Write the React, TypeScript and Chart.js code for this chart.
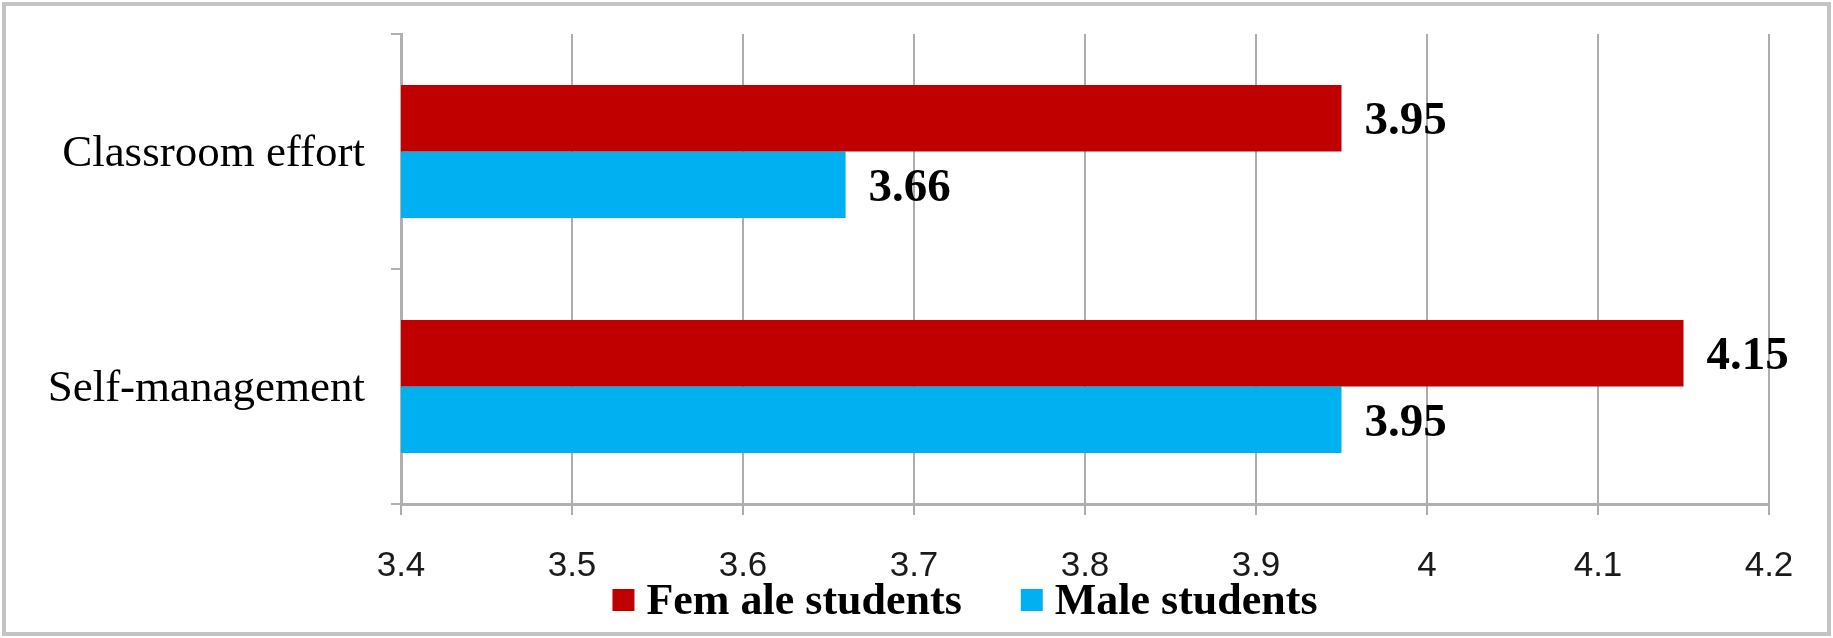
import React, { useEffect, useRef } from 'react';
import { Chart, registerables } from 'chart.js';

Chart.register(...registerables);

// Chart values
const categories = ['Classroom effort', 'Self-management'];
const femaleScores = [3.95, 4.15];
const maleScores = [3.66, 3.95];
const seriesNames = ['Fem ale students', 'Male students'];
const seriesColors = ['#C00000', '#00B0F0'];
const xTickValues = [3.4, 3.5, 3.6, 3.7, 3.8, 3.9, 4.0, 4.1, 4.2];
const xTickLabels = ['3.4', '3.5', '3.6', '3.7', '3.8', '3.9', '4', '4.1', '4.2'];

// Bold value labels next to bar ends
const valueLabels = {
  id: 'valueLabels',
  afterDatasetsDraw(chart: any) {
    const ctx = chart.ctx;
    ctx.save();
    ctx.font = 'bold 47px "Liberation Serif"';
    ctx.fillStyle = '#000';
    ctx.textAlign = 'left';
    ctx.textBaseline = 'middle';
    chart.data.datasets.forEach((ds: any, i: number) => {
      chart.getDatasetMeta(i).data.forEach((bar: any, j: number) => {
        ctx.fillText(Number(ds.data[j]).toFixed(2), bar.x + 23, bar.y + 4);
      });
    });
    ctx.restore();
  },
};

// Legend under the axis, like the original (small square, tight gap to text)
const bottomLegend = {
  id: 'bottomLegend',
  afterDraw(chart: any) {
    const ctx = chart.ctx;
    const box = 22;
    const textGap = 12;
    const itemGap = 59;
    const centerX = 965;
    const baseline = 614;
    ctx.save();
    ctx.font = 'bold 44px "Liberation Serif"';
    ctx.textAlign = 'left';
    ctx.textBaseline = 'alphabetic';
    const items = chart.data.datasets.map((ds: any) => ({
      text: ds.label as string,
      color: ds.backgroundColor as string,
      w: ctx.measureText(ds.label).width,
    }));
    const total =
      items.reduce((s: number, it: any) => s + box + textGap + it.w, 0) + itemGap * (items.length - 1);
    let x = centerX - total / 2;
    items.forEach((it: any) => {
      ctx.fillStyle = it.color;
      ctx.fillRect(x, baseline - 25, box, box);
      ctx.fillStyle = '#000';
      ctx.fillText(it.text, x + box + textGap, baseline);
      x += box + textGap + it.w + itemGap;
    });
    ctx.restore();
  },
};

// Grey frame round the whole chart
const frame = {
  id: 'frame',
  afterDraw(chart: any) {
    const ctx = chart.ctx;
    ctx.save();
    ctx.strokeStyle = '#C4C4C4';
    ctx.lineWidth = 4;
    ctx.strokeRect(4, 4, chart.width - 8, chart.height - 8);
    ctx.restore();
  },
};

const App: React.FC = () => {
  const canvasRef = useRef<HTMLCanvasElement>(null);
  const chartRef = useRef<Chart | null>(null);

  useEffect(() => {
    if (!canvasRef.current) return;
    if (chartRef.current) chartRef.current.destroy();

    chartRef.current = new Chart(canvasRef.current, {
      type: 'bar',
      data: {
        labels: categories,
        datasets: [
          {
            label: seriesNames[0],
            data: femaleScores,
            backgroundColor: seriesColors[0],
            borderWidth: 0,
            categoryPercentage: 0.565,
            barPercentage: 1,
          },
          {
            label: seriesNames[1],
            data: maleScores,
            backgroundColor: seriesColors[1],
            borderWidth: 0,
            categoryPercentage: 0.565,
            barPercentage: 1,
          },
        ],
      },
      options: {
        indexAxis: 'y',
        animation: false,
        responsive: true,
        maintainAspectRatio: false,
        layout: { padding: { top: 34, left: 0, right: 64, bottom: 34 } },
        scales: {
          x: {
            min: 3.4,
            max: 4.2,
            afterBuildTicks: (scale: any) => {
              scale.ticks = xTickValues.map((v) => ({ value: v }));
            },
            afterFit: (scale: any) => {
              scale.height = 100;
              scale.paddingLeft = 0;
              scale.paddingRight = 0;
            },
            ticks: {
              autoSkip: false,
              maxRotation: 0,
              padding: 30,
              color: '#1a1a1a',
              font: { family: '"Liberation Sans"', size: 35 },
              callback: (_v: any, i: number) => xTickLabels[i],
            },
            grid: { color: '#ADADAD', lineWidth: 2, tickLength: 11 },
            border: { color: '#B0B0B0', width: 3 },
          },
          y: {
            afterFit: (scale: any) => {
              scale.width = 401;
              scale.paddingTop = 0;
              scale.paddingBottom = 0;
            },
            ticks: {
              padding: 26,
              labelOffset: 3,
              color: '#000',
              font: { family: '"Liberation Serif"', size: 45 },
            },
            grid: { drawOnChartArea: false, color: '#B0B0B0', lineWidth: 2, tickLength: 10, offset: true },
            border: { color: '#B0B0B0', width: 3 },
          },
        },
        plugins: {
          legend: { display: false },
          tooltip: { enabled: false },
        },
      },
      plugins: [valueLabels, bottomLegend, frame],
    });

    return () => {
      if (chartRef.current) {
        chartRef.current.destroy();
        chartRef.current = null;
      }
    };
  }, []);

  return (
    <div style={{ position: 'absolute', left: 0, top: 0, width: '1833px', height: '638px', background: '#fff' }}>
      <canvas ref={canvasRef}></canvas>
    </div>
  );
};

export default App;
